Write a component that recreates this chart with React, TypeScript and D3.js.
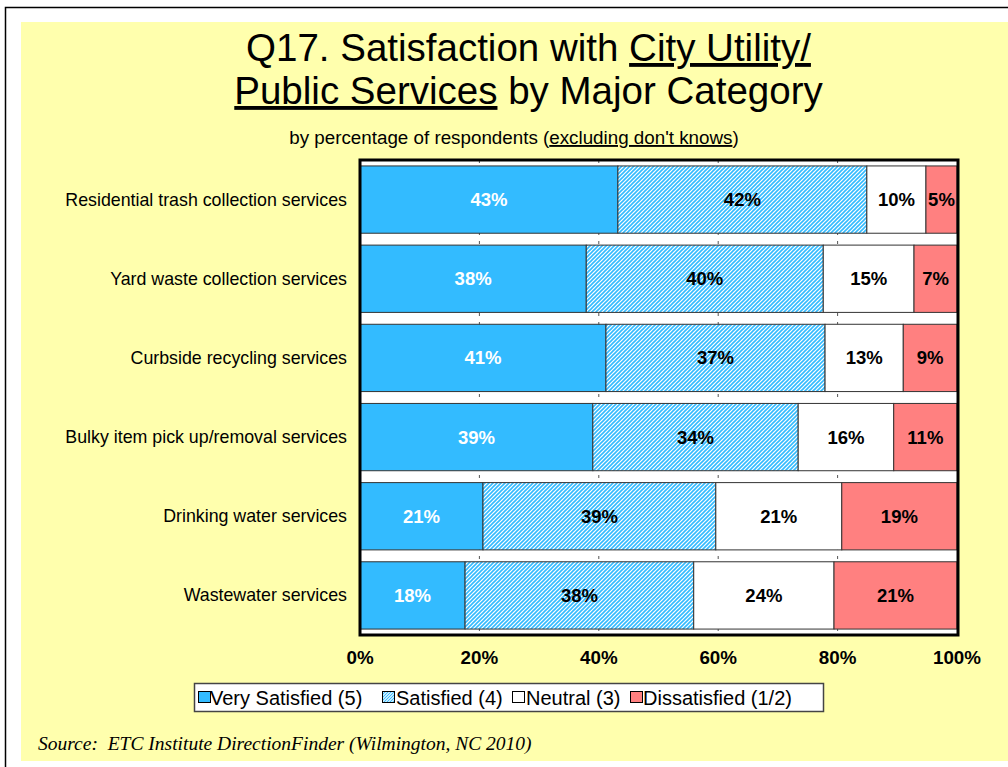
import React from "react";
import * as d3 from "d3";

const categories = [
  "Residential trash collection services",
  "Yard waste collection services",
  "Curbside recycling services",
  "Bulky item pick up/removal services",
  "Drinking water services",
  "Wastewater services",
];
const seriesNames = ["Very Satisfied (5)", "Satisfied (4)", "Neutral (3)", "Dissatisfied (1/2)"];
const verySatisfied = [43.2, 37.9, 41.2, 39.0, 20.6, 17.6];
const satisfied = [41.7, 39.7, 36.7, 34.4, 39.0, 38.3];
const neutral = [9.9, 15.2, 13.1, 16.0, 21.1, 23.5];
const dissatisfied = [5.2, 7.2, 9.0, 10.6, 19.3, 20.6];
const xTicks = [0, 20, 40, 60, 80, 100];

const fills = ["#33BBFF", "url(#hatch)", "#FFFFFF", "#FF8080"];
const labelColors = ["#FFFFFF", "#000000", "#000000", "#000000"];

const W = 1008;
const H = 767;
const plot = { left: 360, right: 958, top: 160, bottom: 635 };

export default function App() {
  const series = [verySatisfied, satisfied, neutral, dissatisfied];
  const rows = categories.map((c, i) => {
    const o: any = { cat: c };
    seriesNames.forEach((s, k) => (o[s] = series[k][i]));
    return o;
  });
  const stack = d3.stack<any>().keys(seriesNames)(rows);
  const x = d3.scaleLinear().domain([0, 100]).range([plot.left, plot.right - 1]);
  const y = d3
    .scaleBand<string>()
    .domain(categories)
    .range([plot.top, plot.bottom])
    .paddingInner(0.15)
    .paddingOuter(0.075);
  const font = "'Liberation Sans', Arial, sans-serif";

  const legendItems = [
    { x: 198, tx: 210 },
    { x: 382, tx: 396 },
    { x: 512, tx: 526 },
    { x: 630, tx: 643 },
  ];

  return (
    <svg
      width={W}
      height={H}
      style={{ position: "absolute", left: 0, top: 0, display: "block" }}
      fontFamily={font}
    >
      <defs>
        <pattern id="hatch" patternUnits="userSpaceOnUse" width="4" height="4">
          <rect width="4" height="4" fill="#FFFFFF" />
          <path d="M-1,1 l2,-2 M0,4 l4,-4 M3,5 l2,-2" stroke="#33BBFF" strokeWidth="1.6" />
        </pattern>
        <pattern id="hatchL" patternUnits="userSpaceOnUse" width="3" height="3">
          <rect width="3" height="3" fill="#FFFFFF" />
          <path d="M-1,1 l2,-2 M0,3 l3,-3 M2,4 l2,-2" stroke="#33BBFF" strokeWidth="1.1" />
        </pattern>
      </defs>
      <rect x={0} y={0} width={W} height={H} fill="#FFFFFF" />
      <rect x={5.5} y={7.5} width={W + 10} height={H + 10} fill="#FFFFFF" stroke="#000" strokeWidth={1.5} />
      <rect x={21} y={22} width={W} height={739} fill="#FFFFAD" />

      {/* Title */}
      <text x={528.5} y={61} textAnchor="middle" fontSize={38.5} fill="#000">
        Q17. Satisfaction with <tspan textDecoration="underline">City Utility/</tspan>
      </text>
      <text x={528.5} y={104} textAnchor="middle" fontSize={38.5} fill="#000">
        <tspan textDecoration="underline">Public Services</tspan> by Major Category
      </text>
      <text x={514} y={144} textAnchor="middle" fontSize={18.8} fill="#000">
        by percentage of respondents (<tspan textDecoration="underline">excluding don't knows</tspan>)
      </text>

      {/* Plot area */}
      <rect x={plot.left} y={plot.top} width={plot.right - plot.left} height={plot.bottom - plot.top} fill="#FFFFFF" />
      {xTicks.slice(1, -1).map((t) => (
        <line
          key={t}
          x1={x(t)}
          x2={x(t)}
          y1={plot.top}
          y2={plot.bottom}
          stroke="#555"
          strokeWidth={1}
          strokeDasharray="3,6"
        />
      ))}
      {stack.map((layer, k) =>
        layer.map((d, i) => {
          const cat = categories[i];
          const x0 = x(d[0]);
          const x1 = x(d[1]);
          const yy = y(cat)!;
          const bh = y.bandwidth();
          return (
            <g key={k + "-" + i}>
              <rect x={x0} y={yy} width={x1 - x0} height={bh} fill={fills[k]} stroke="#333" strokeWidth={1} />
              <text
                x={(x0 + x1) / 2}
                y={yy + bh / 2 + 6.5}
                textAnchor="middle"
                fontSize={18.5}
                fontWeight="bold"
                fill={labelColors[k]}
              >
                {Math.round(d[1] - d[0])}%
              </text>
            </g>
          );
        })
      )}
      <rect
        x={plot.left}
        y={plot.top}
        width={plot.right - plot.left}
        height={plot.bottom - plot.top}
        fill="none"
        stroke="#000"
        strokeWidth={3}
      />

      {/* Category labels */}
      {categories.map((c) => (
        <text key={c} x={347} y={y(c)! + y.bandwidth() / 2 + 6} textAnchor="end" fontSize={17.8} fill="#000">
          {c}
        </text>
      ))}

      {/* X axis tick labels */}
      {xTicks.map((t) => (
        <text key={t} x={x(t)} y={664} textAnchor="middle" fontSize={18.8} fontWeight="bold" fill="#000">
          {t}%
        </text>
      ))}

      {/* Legend */}
      <rect x={194.5} y={683.5} width={629} height={28} fill="#FFFFFF" stroke="#444" strokeWidth={1.5} />
      {seriesNames.map((s, k) => (
        <g key={s}>
          <rect
            x={legendItems[k].x + 0.5}
            y={691.5}
            width={12}
            height={11}
            fill={k === 1 ? "url(#hatchL)" : fills[k]}
            stroke="#000"
            strokeWidth={1}
          />
          <text x={legendItems[k].tx} y={704.5} fontSize={20} fill="#000">
            {s}
          </text>
        </g>
      ))}

      {/* Source */}
      <text
        x={38}
        y={750}
        fontSize={19.5}
        fontStyle="italic"
        fontFamily="'Liberation Serif', 'Times New Roman', serif"
        fill="#000"
        style={{ whiteSpace: "pre" }}
      >
        {"Source:  ETC Institute DirectionFinder (Wilmington, NC 2010)"}
      </text>
    </svg>
  );
}
